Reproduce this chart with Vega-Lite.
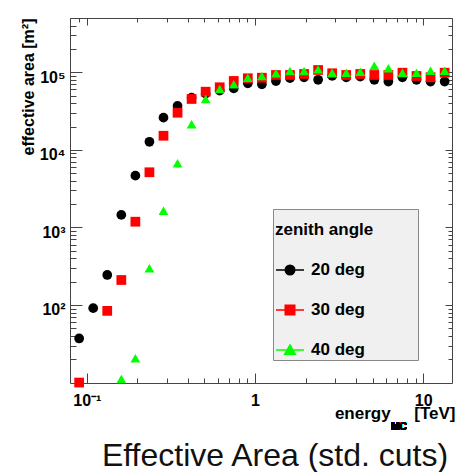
{
  "$schema": "https://vega.github.io/schema/vega-lite/v6.json",
  "autosize": {"type": "none"},
  "padding": {"left": 70, "top": 18, "right": 8, "bottom": 89},
  "width": 382,
  "height": 365,
  "background": "#ffffff",
  "config": {
    "font": "Liberation Sans",
    "view": {"stroke": "#444444", "strokeWidth": 1}
  },
  "title": {
    "text": "Effective Area (std. cuts)",
    "orient": "bottom",
    "anchor": "middle",
    "frame": "group",
    "fontSize": 32,
    "fontWeight": "normal",
    "font": "Liberation Sans",
    "color": "#111111",
    "dx": 14,
    "offset": 34,
    "baseline": "alphabetic"
  },
  "data": {
    "values": [
      {"E": 0.0900, "A": 37, "zenith": "20 deg"},
      {"E": 0.1091, "A": 91, "zenith": "20 deg"},
      {"E": 0.1322, "A": 244, "zenith": "20 deg"},
      {"E": 0.1603, "A": 1450, "zenith": "20 deg"},
      {"E": 0.1943, "A": 4650, "zenith": "20 deg"},
      {"E": 0.2355, "A": 12700, "zenith": "20 deg"},
      {"E": 0.2855, "A": 26000, "zenith": "20 deg"},
      {"E": 0.3461, "A": 36800, "zenith": "20 deg"},
      {"E": 0.4195, "A": 47000, "zenith": "20 deg"},
      {"E": 0.5085, "A": 53000, "zenith": "20 deg"},
      {"E": 0.6164, "A": 58000, "zenith": "20 deg"},
      {"E": 0.7471, "A": 62000, "zenith": "20 deg"},
      {"E": 0.9057, "A": 72000, "zenith": "20 deg"},
      {"E": 1.098, "A": 70000, "zenith": "20 deg"},
      {"E": 1.331, "A": 77000, "zenith": "20 deg"},
      {"E": 1.613, "A": 84000, "zenith": "20 deg"},
      {"E": 1.956, "A": 86000, "zenith": "20 deg"},
      {"E": 2.371, "A": 80000, "zenith": "20 deg"},
      {"E": 2.874, "A": 90000, "zenith": "20 deg"},
      {"E": 3.483, "A": 86000, "zenith": "20 deg"},
      {"E": 4.222, "A": 88000, "zenith": "20 deg"},
      {"E": 5.118, "A": 80000, "zenith": "20 deg"},
      {"E": 6.204, "A": 76000, "zenith": "20 deg"},
      {"E": 7.520, "A": 86000, "zenith": "20 deg"},
      {"E": 9.117, "A": 80000, "zenith": "20 deg"},
      {"E": 11.05, "A": 76000, "zenith": "20 deg"},
      {"E": 13.40, "A": 76000, "zenith": "20 deg"},
      {"E": 0.0900, "A": 10, "zenith": "30 deg"},
      {"E": 0.1322, "A": 84, "zenith": "30 deg"},
      {"E": 0.1603, "A": 210, "zenith": "30 deg"},
      {"E": 0.1943, "A": 1185, "zenith": "30 deg"},
      {"E": 0.2355, "A": 5140, "zenith": "30 deg"},
      {"E": 0.2855, "A": 15200, "zenith": "30 deg"},
      {"E": 0.3461, "A": 30100, "zenith": "30 deg"},
      {"E": 0.4195, "A": 45300, "zenith": "30 deg"},
      {"E": 0.5085, "A": 56200, "zenith": "30 deg"},
      {"E": 0.6164, "A": 64100, "zenith": "30 deg"},
      {"E": 0.7471, "A": 77300, "zenith": "30 deg"},
      {"E": 0.9057, "A": 83700, "zenith": "30 deg"},
      {"E": 1.098, "A": 85100, "zenith": "30 deg"},
      {"E": 1.331, "A": 92300, "zenith": "30 deg"},
      {"E": 1.613, "A": 92300, "zenith": "30 deg"},
      {"E": 1.956, "A": 95100, "zenith": "30 deg"},
      {"E": 2.371, "A": 107000, "zenith": "30 deg"},
      {"E": 2.874, "A": 97100, "zenith": "30 deg"},
      {"E": 3.483, "A": 92300, "zenith": "30 deg"},
      {"E": 4.222, "A": 95100, "zenith": "30 deg"},
      {"E": 5.118, "A": 92300, "zenith": "30 deg"},
      {"E": 6.204, "A": 92300, "zenith": "30 deg"},
      {"E": 7.520, "A": 98800, "zenith": "30 deg"},
      {"E": 9.117, "A": 89600, "zenith": "30 deg"},
      {"E": 11.05, "A": 86300, "zenith": "30 deg"},
      {"E": 13.40, "A": 98800, "zenith": "30 deg"},
      {"E": 0.1603, "A": 11.1, "zenith": "40 deg"},
      {"E": 0.1943, "A": 20.6, "zenith": "40 deg"},
      {"E": 0.2355, "A": 297, "zenith": "40 deg"},
      {"E": 0.2855, "A": 1644, "zenith": "40 deg"},
      {"E": 0.3461, "A": 6710, "zenith": "40 deg"},
      {"E": 0.4195, "A": 21400, "zenith": "40 deg"},
      {"E": 0.5085, "A": 45300, "zenith": "40 deg"},
      {"E": 0.6164, "A": 61000, "zenith": "40 deg"},
      {"E": 0.7471, "A": 70000, "zenith": "40 deg"},
      {"E": 0.9057, "A": 85100, "zenith": "40 deg"},
      {"E": 1.098, "A": 89600, "zenith": "40 deg"},
      {"E": 1.331, "A": 97100, "zenith": "40 deg"},
      {"E": 1.613, "A": 104000, "zenith": "40 deg"},
      {"E": 1.956, "A": 104000, "zenith": "40 deg"},
      {"E": 2.371, "A": 109000, "zenith": "40 deg"},
      {"E": 2.874, "A": 98800, "zenith": "40 deg"},
      {"E": 3.483, "A": 98800, "zenith": "40 deg"},
      {"E": 4.222, "A": 101800, "zenith": "40 deg"},
      {"E": 5.118, "A": 121600, "zenith": "40 deg"},
      {"E": 6.204, "A": 112600, "zenith": "40 deg"},
      {"E": 7.520, "A": 98800, "zenith": "40 deg"},
      {"E": 9.117, "A": 98800, "zenith": "40 deg"},
      {"E": 11.05, "A": 104800, "zenith": "40 deg"},
      {"E": 13.40, "A": 104800, "zenith": "40 deg"}
    ]
  },
  "layer": [
    {
      "mark": {"type": "point", "filled": true, "opacity": 1, "size": 95, "strokeWidth": 0},
      "encoding": {
        "x": {
          "field": "E", "type": "quantitative",
          "scale": {"type": "log", "domain": [0.0794, 14.82], "nice": false},
          "axis": {
            "orient": "bottom",
            "values": [0.1, 1, 10],
            "labelExpr": "datum.value < 0.5 ? '10⁻¹' : datum.value < 5 ? '1' : '10'",
            "tickSize": -10, "tickColor": "#444444", "tickWidth": 1,
            "labelPadding": 19, "labelFontSize": 16, "labelFontWeight": "bold", "labelColor": "#000000",
            "labelFlush": false, "labelOverlap": false,
            "domain": false, "grid": false,
            "title": "energy\u00a0\u00a0\u00a0\u00a0\u00a0[TeV]",
            "titleX": 385, "titleY": 35, "titleAlign": "right", "titleBaseline": "alphabetic",
            "titleFontSize": 17, "titleFontWeight": "bold", "titleColor": "#000000"
          }
        },
        "y": {
          "field": "A", "type": "quantitative",
          "scale": {"type": "log", "domain": [9.87, 501000], "nice": false},
          "axis": {
            "orient": "left",
            "values": [100, 1000, 10000, 100000],
            "labelExpr": "datum.value < 500 ? '10²' : datum.value < 5000 ? '10³' : datum.value < 50000 ? '10⁴' : '10⁵'",
            "tickSize": -12, "tickColor": "#444444", "tickWidth": 1,
            "labelPadding": 17, "labelOffset": 5, "labelFontSize": 16, "labelFontWeight": "bold", "labelColor": "#000000",
            "labelBaseline": "middle",
            "labelFlush": false, "labelOverlap": false,
            "domain": false, "grid": false,
            "title": "effective area [m²]",
            "titleX": -37, "titleY": 0, "titleAngle": -90, "titleAlign": "right", "titleBaseline": "alphabetic",
            "titleFontSize": 16, "titleFontWeight": "bold", "titleColor": "#000000"
          }
        },
        "color": {
          "field": "zenith", "type": "nominal",
          "scale": {"domain": ["20 deg", "30 deg", "40 deg"], "range": ["#000000", "#ff0000", "#00ff00"]},
          "legend": {
            "orient": "none", "legendX": 203, "legendY": 191,
            "title": "zenith angle\u00a0\u00a0\u00a0\u00a0\u00a0\u00a0\u00a0\u00a0\u00a0\u200b",
            "titleFontSize": 17, "titleFontWeight": "bold", "titleColor": "#000000", "titlePadding": 27,
            "labelFontSize": 17, "labelFontWeight": "bold", "labelColor": "#000000", "labelOffset": 6,
            "symbolSize": 784, "symbolStrokeWidth": 1.5,
            "rowPadding": 17, "padding": 2,
            "fillColor": "#f0f0f0", "strokeColor": "#888888",
            "encoding": {
              "symbols": {
                "shape": {
                  "condition": [
                    {"test": "datum.value === '20 deg'", "value": "M-1,0H1M-0.34,0A0.34,0.34,0,1,0,0.34,0A0.34,0.34,0,1,0,-0.34,0Z"},
                    {"test": "datum.value === '30 deg'", "value": "M-1,0H1M-0.34,-0.34H0.34V0.34H-0.34Z"}
                  ],
                  "value": "M-1,0H1M0,-0.36L0.38,0.3H-0.38Z"
                },
                "stroke": {
                  "condition": [
                    {"test": "datum.value === '20 deg'", "value": "#000000"},
                    {"test": "datum.value === '30 deg'", "value": "#ff0000"}
                  ],
                  "value": "#00ff00"
                },
                "strokeWidth": {"value": 1.5}
              },
              "title": {"dy": {"value": 11}}
            }
          }
        },
        "shape": {
          "field": "zenith", "type": "nominal",
          "scale": {"range": ["circle", "square", "triangle-up"]},
          "legend": null
        }
      }
    },
    {
      "mark": {"type": "point", "opacity": 0},
      "encoding": {
        "x": {
          "field": "E", "type": "quantitative",
          "scale": {"type": "log", "domain": [0.0794, 14.82], "nice": false},
          "axis": {
            "orient": "bottom",
            "values": [0.09, 0.2, 0.3, 0.4, 0.5, 0.6, 0.7, 0.8, 0.9, 2, 3, 4, 5, 6, 7, 8, 9],
            "labels": false, "tickSize": -5, "tickColor": "#444444", "domain": false, "grid": false, "title": null
          }
        },
        "y": {
          "field": "A", "type": "quantitative",
          "scale": {"type": "log", "domain": [9.87, 501000], "nice": false},
          "axis": {
            "orient": "left",
            "values": [20, 30, 40, 50, 60, 70, 80, 90, 200, 300, 400, 500, 600, 700, 800, 900, 2000, 3000, 4000, 5000, 6000, 7000, 8000, 9000, 20000, 30000, 40000, 50000, 60000, 70000, 80000, 90000, 200000, 300000, 400000, 500000],
            "labels": false, "tickSize": -6, "tickColor": "#444444", "domain": false, "grid": false, "title": null
          }
        }
      }
    },
    {
      "mark": {"type": "point", "opacity": 0},
      "encoding": {
        "x": {
          "field": "E", "type": "quantitative",
          "scale": {"type": "log", "domain": [0.0794, 14.82], "nice": false},
          "axis": {
            "orient": "top", "values": [0.1, 1, 10],
            "labels": false, "tickSize": -7, "tickColor": "#444444", "domain": false, "grid": false, "title": null
          }
        },
        "y": {
          "field": "A", "type": "quantitative",
          "scale": {"type": "log", "domain": [9.87, 501000], "nice": false},
          "axis": {
            "orient": "right", "values": [100, 1000, 10000, 100000],
            "labels": false, "tickSize": -7, "tickColor": "#444444", "domain": false, "grid": false, "title": null
          }
        }
      }
    },
    {
      "mark": {"type": "point", "opacity": 0},
      "encoding": {
        "x": {
          "field": "E", "type": "quantitative",
          "scale": {"type": "log", "domain": [0.0794, 14.82], "nice": false},
          "axis": {
            "orient": "top",
            "values": [0.09, 0.2, 0.3, 0.4, 0.5, 0.6, 0.7, 0.8, 0.9, 2, 3, 4, 5, 6, 7, 8, 9],
            "labels": false, "tickSize": -4, "tickColor": "#444444", "domain": false, "grid": false, "title": null
          }
        },
        "y": {
          "field": "A", "type": "quantitative",
          "scale": {"type": "log", "domain": [9.87, 501000], "nice": false},
          "axis": {
            "orient": "right",
            "values": [20, 30, 40, 50, 60, 70, 80, 90, 200, 300, 400, 500, 600, 700, 800, 900, 2000, 3000, 4000, 5000, 6000, 7000, 8000, 9000, 20000, 30000, 40000, 50000, 60000, 70000, 80000, 90000, 200000, 300000, 400000, 500000],
            "labels": false, "tickSize": -4, "tickColor": "#444444", "domain": false, "grid": false, "title": null
          }
        }
      }
    },
    {
      "mark": {"type": "text", "text": "MC", "fontSize": 10, "fontWeight": "bold", "color": "#000000", "baseline": "middle", "align": "center", "dy": 44},
      "encoding": {
        "x": {"datum": 7.18, "type": "quantitative", "scale": {"type": "log", "domain": [0.0794, 14.82], "nice": false}, "axis": null},
        "y": {"datum": 9.87, "type": "quantitative", "scale": {"type": "log", "domain": [9.87, 501000], "nice": false}, "axis": null}
      }
    }
  ],
  "resolve": {"axis": {"x": "independent", "y": "independent"}}
}
